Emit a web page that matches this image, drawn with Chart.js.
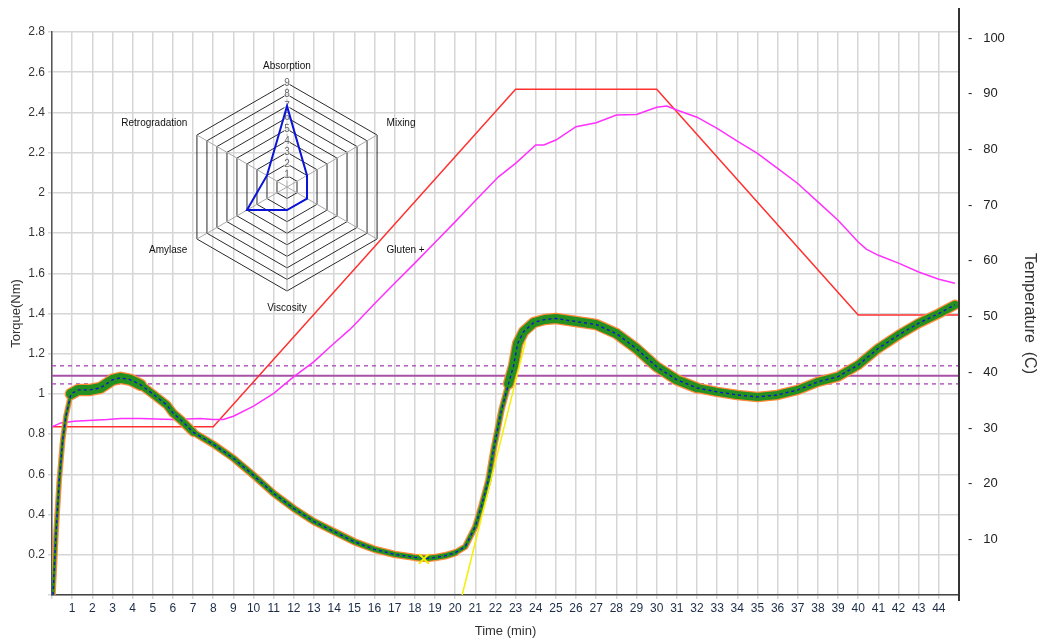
<!DOCTYPE html>
<html lang="en">
<head>
<meta charset="UTF-8" />
<title>Torque and Temperature</title>
<script src="https://cdn.jsdelivr.net/npm/chart.js@4.4.1/dist/chart.umd.min.js"></script>
<style>
  body { margin: 0; background: #fff; }
  #wrap { position: relative; width: 1052px; height: 642px; }
  #mainChart { position: absolute; left: 0; top: 0; }
  #radarChart { position: absolute; left: 106px; top: 60px; }
</style>
</head>
<body>
<div id="wrap">
  <canvas id="mainChart" width="1052" height="642"></canvas>
  <canvas id="radarChart" width="360" height="254"></canvas>
</div>
<script>
// torque curve (Nm)
const torqueTime = [0.05, 0.2, 0.36, 0.53, 0.69, 0.94, 1.3, 1.9, 2.4, 3.0, 3.4, 3.9, 4.4, 5.0, 5.7, 6.0, 6.4, 7, 8, 9, 10, 11, 12, 13, 14, 15, 16, 17, 18, 18.6, 19, 19.5, 20, 20.5, 21, 21.3, 21.65, 21.9, 22.3, 22.65, 22.9, 23.1, 23.4, 23.9, 24.45, 25, 26, 27, 28, 29, 30, 31, 32, 33, 34, 35, 36, 37, 38, 39, 40, 41, 42, 43, 44, 44.8];
const torque = [0, 0.31, 0.57, 0.77, 0.89, 1.0, 1.02, 1.02, 1.03, 1.07, 1.08, 1.07, 1.045, 1.0, 0.945, 0.905, 0.87, 0.81, 0.75, 0.68, 0.595, 0.505, 0.43, 0.365, 0.315, 0.265, 0.227, 0.202, 0.187, 0.182, 0.186, 0.195, 0.21, 0.24, 0.34, 0.44, 0.57, 0.72, 0.92, 1.05, 1.14, 1.25, 1.31, 1.355, 1.37, 1.375, 1.36, 1.345, 1.30, 1.225, 1.135, 1.07, 1.03, 1.01, 0.995, 0.985, 0.995, 1.02, 1.06, 1.086, 1.144, 1.227, 1.293, 1.352, 1.40, 1.443];

// measured dough temperature (C)
const tempTime = [0, 0.44, 1.1, 2.75, 3.4, 4.4, 6.0, 7.35, 8.0, 8.5, 9, 10, 11, 12, 13, 13.9, 14.75, 15, 16, 17, 18, 19, 20, 21, 22.15, 23, 24, 24.4, 25, 26, 27, 28, 29, 30, 30.5, 31, 32, 33, 34, 35, 36, 37, 38, 39, 40, 40.4, 41, 42, 43, 44, 44.8];
const temperature = [30.2, 30.9, 31.2, 31.5, 31.7, 31.7, 31.5, 31.7, 31.5, 31.5, 32.1, 33.9, 36.2, 39.2, 41.9, 44.9, 47.6, 48.5, 52.3, 56.0, 59.6, 63.3, 67.0, 70.8, 75.1, 77.5, 80.8, 80.8, 81.7, 84.1, 84.8, 86.2, 86.3, 87.6, 87.8, 87.1, 85.8, 83.8, 81.5, 79.3, 76.6, 73.9, 70.6, 67.3, 63.4, 62.1, 61.0, 59.6, 58.0, 56.7, 56.0];

// programmed temperature profile (C)
const profileTime = [0, 8, 23, 30, 40, 45, 45];
const profileTemp = [30.2, 30.2, 90.8, 90.8, 50.3, 50.3, 0];

// target band
const targetTorque = 1.09;
const upperTorque = 1.14;
const lowerTorque = 1.05;

// tangent line and minimum marker
const tangentTime = [20.35, 23.49];
const tangentTorque = [0, 1.26];
const minPoint = { x: 18.45, y: 0.18 };

// radar inset
const radarLabels = ["Absorption", "Mixing", "Gluten +", "Viscosity", "Amylase", "Retrogradation"];
const radarValues = [7, 2, 2, 2, 4, 2];

const FONT = "'Liberation Sans', Arial, sans-serif";
const pts = (xs, ys) => xs.map((x, i) => ({ x: x, y: ys[i] }));
const flat = (v) => [{ x: 0, y: v }, { x: 45, y: v }];

// band thickness of the noisy torque trace
function band(t) {
	if (t < 0.7) return 3;
	if (t < 4.2) return 10;
	if (t < 6.5) return 7;
	if (t < 20) return 5;
	if (t < 22.5) return 4;
	if (t < 32) return 9;
	return 8;
}

const rightAxisLine = {
	id: "rightAxisLine",
	afterDraw(chart) {
		const s = chart.scales.y1;
		const ctx = chart.ctx;
		ctx.save();
		ctx.strokeStyle = "#333";
		ctx.lineWidth = 2;
		ctx.beginPath();
		ctx.moveTo(s.left, s.top - 24);
		ctx.lineTo(s.left, s.bottom + 6);
		ctx.stroke();
		ctx.restore();
	},
};

new Chart(document.getElementById("mainChart"), {
	type: "line",
	data: {
		datasets: [
			{
				label: "Torque",
				data: pts(torqueTime, torque),
				borderColor: "#1010d0",
				borderWidth: 1.3,
				borderDash: [3, 3],
				pointRadius: 0,
				yAxisID: "y",
				order: 1,
			},
			{
				label: "Minimum",
				type: "scatter",
				data: [minPoint],
				pointStyle: "crossRot",
				pointRadius: 7,
				borderColor: "#f0f000",
				borderWidth: 2,
				yAxisID: "y",
				order: 0,
			},
			{
				label: "Tangent",
				data: pts(tangentTime, tangentTorque),
				borderColor: "#f4f000",
				borderWidth: 1.5,
				pointRadius: 0,
				yAxisID: "y",
				order: 2,
			},
			{
				label: "Torque band",
				data: pts(torqueTime, torque),
				borderColor: "#23901f",
				borderCapStyle: "round",
				borderJoinStyle: "round",
				segment: { borderWidth: (c) => band(c.p0.parsed.x) },
				pointRadius: 0,
				yAxisID: "y",
				order: 3,
			},
			{
				label: "Torque outline",
				data: pts(torqueTime, torque),
				borderColor: "#ff8a3a",
				borderCapStyle: "round",
				borderJoinStyle: "round",
				segment: { borderWidth: (c) => band(c.p0.parsed.x) + 2.5 },
				pointRadius: 0,
				yAxisID: "y",
				order: 4,
			},
			{
				label: "Dough temperature",
				data: pts(tempTime, temperature),
				borderColor: "#ff30ff",
				borderWidth: 1.5,
				pointRadius: 0,
				yAxisID: "y1",
				order: 5,
			},
			{
				label: "Profile",
				data: pts(profileTime, profileTemp),
				borderColor: "#ff3030",
				borderWidth: 1.5,
				pointRadius: 0,
				yAxisID: "y1",
				clip: 4,
				order: 6,
			},
			{
				label: "Target",
				data: flat(targetTorque),
				borderColor: "#a650a6",
				borderWidth: 2,
				pointRadius: 0,
				yAxisID: "y",
				order: 7,
			},
			{
				label: "Upper",
				data: flat(upperTorque),
				borderColor: "#b45cc0",
				borderWidth: 1.5,
				borderDash: [4, 4],
				pointRadius: 0,
				yAxisID: "y",
				order: 7,
			},
			{
				label: "Lower",
				data: flat(lowerTorque),
				borderColor: "#b45cc0",
				borderWidth: 1.5,
				borderDash: [4, 4],
				pointRadius: 0,
				yAxisID: "y",
				order: 7,
			},
		],
	},
	options: {
		responsive: false,
		animation: false,
		devicePixelRatio: 1,
		layout: { padding: { top: 32, left: 0, right: 0, bottom: 0 } },
		plugins: { legend: { display: false }, tooltip: { enabled: false } },
		scales: {
			x: {
				type: "linear",
				min: 0,
				max: 45,
				afterFit: (s) => { s.height = 47; },
				border: { color: "#444", width: 1.5 },
				grid: { color: "#d6d6d6", lineWidth: 1.5, tickLength: 4 },
				ticks: {
					stepSize: 1,
					autoSkip: false,
					maxRotation: 0,
					padding: 2,
					color: "#1c2c48",
					font: { family: FONT, size: 12 },
					callback: (v) => (v === 0 || v === 45 ? "" : v),
				},
				title: { display: true, text: "Time (min)", color: "#333", font: { family: FONT, size: 13 }, padding: { top: 2, bottom: 3 } },
			},
			y: {
				type: "linear",
				position: "left",
				min: 0,
				max: 2.8,
				afterFit: (s) => { s.width = 52; },
				border: { color: "#555", width: 1.5 },
				grid: { color: "#d6d6d6", lineWidth: 1.5, tickLength: 4 },
				ticks: {
					stepSize: 0.2,
					padding: 3,
					color: "#333",
					font: { family: FONT, size: 12 },
					callback: (v) => (v === 0 ? "" : Math.round(v * 10) / 10),
				},
				title: { display: true, text: "Torque(Nm)", color: "#333", font: { family: FONT, size: 13 }, padding: { top: 9, bottom: 4 } },
			},
			y1: {
				type: "linear",
				position: "right",
				min: 0,
				max: 101.1,
				afterFit: (s) => { s.width = 93; },
				border: { display: false },
				grid: { drawOnChartArea: false, drawTicks: false },
				ticks: {
					stepSize: 10,
					includeBounds: false,
					padding: 9,
					color: "#222",
					font: { family: FONT, size: 13 },
					callback: (v) => (v > 0 && v % 10 === 0 ? "-   " + v : ""),
				},
				title: { display: true, text: "Temperature  (C)", color: "#333", font: { family: FONT, size: 16 }, padding: { top: 13, bottom: 4 } },
			},
		},
	},
	plugins: [rightAxisLine],
});

new Chart(document.getElementById("radarChart"), {
	type: "radar",
	data: {
		labels: radarLabels,
		datasets: [
			{
				data: radarValues,
				borderColor: "#0a14d8",
				borderWidth: 2,
				backgroundColor: "rgba(0,0,0,0)",
				fill: false,
				pointRadius: 0,
			},
		],
	},
	options: {
		responsive: false,
		animation: false,
		devicePixelRatio: 1,
		plugins: { legend: { display: false }, tooltip: { enabled: false } },
		scales: {
			r: {
				min: 0,
				max: 9,
				ticks: {
					stepSize: 1,
					color: "#666",
					font: { family: FONT, size: 10 },
					backdropColor: "rgba(255,255,255,0.7)",
					backdropPadding: 0,
				},
				grid: { color: "#2a2a2a", lineWidth: 1 },
				angleLines: { color: "#a8a8a8", lineWidth: 1 },
				pointLabels: { color: "#111", font: { family: FONT, size: 10 }, padding: 6 },
			},
		},
	},
});
</script>
</body>
</html>
